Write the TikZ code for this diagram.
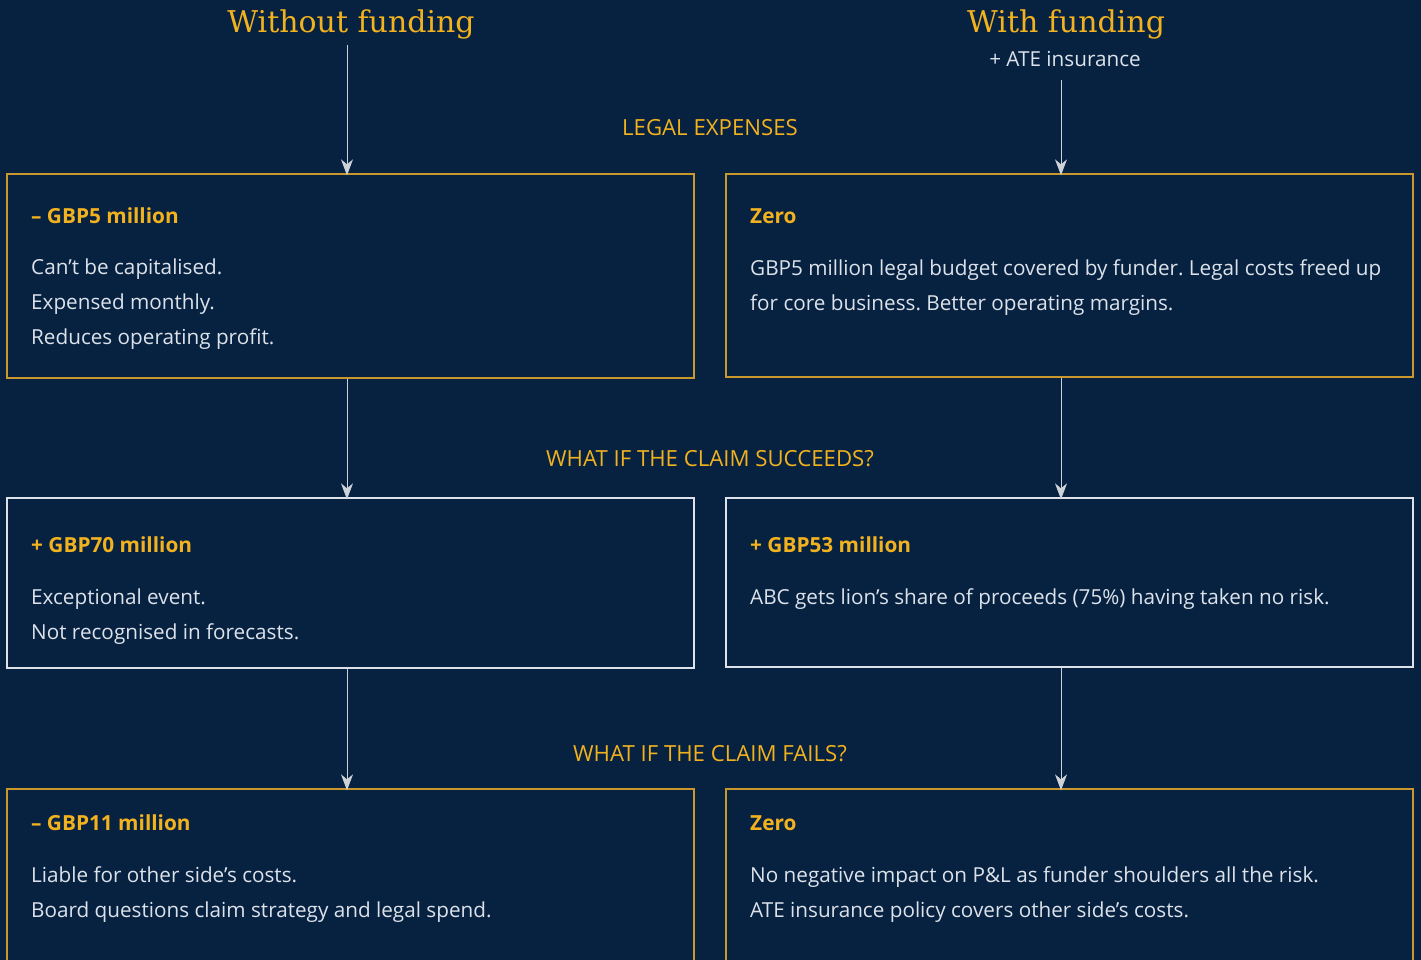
\documentclass[tikz,border=0pt]{standalone}
\usepackage{fontspec}
\setmainfont{Open Sans}
\newfontfamily\titlefont{DejaVu Serif}
\usetikzlibrary{arrows.meta,positioning}
\definecolor{bg}{HTML}{062240}
\definecolor{gold}{HTML}{F2B21F}
\definecolor{goldline}{HTML}{C9972B}
\definecolor{txt}{HTML}{DDE2EA}
\definecolor{arr}{HTML}{CDD1D8}
\frenchspacing
\tikzset{
  goldbox/.style={draw=goldline,line width=1.3pt,rectangle,inner sep=0pt},
  whitebox/.style={draw=txt,line width=1.3pt,rectangle,inner sep=0pt},
  title/.style={text=gold,font=\titlefont\fontsize{30}{33}\selectfont\frenchspacing,anchor=base,inner sep=0pt},
  section/.style={text=gold,font=\fontsize{22.2}{25}\selectfont\frenchspacing,anchor=base,inner sep=0pt},
  head/.style={text=gold,font=\bfseries\fontsize{20.8}{24}\selectfont\frenchspacing,anchor=base west,inner sep=0pt},
  body/.style={text=txt,font=\fontsize{20.7}{34.6}\selectfont\frenchspacing,anchor=base west,inner sep=0pt,align=left},
  sub/.style={text=txt,font=\fontsize{20.7}{24}\selectfont\frenchspacing,anchor=base,inner sep=0pt},
  flow/.style={draw=arr,line width=1pt,-{Stealth[length=16pt,width=12pt,inset=5pt]}}
}
\begin{document}
\begin{tikzpicture}[x=1pt,y=-1pt]
\useasboundingbox (0,0) rectangle (1421,960);
\fill[bg] (0,0) rectangle (1421,960);
\clip (0,0) rectangle (1421,960);
% titles
\node[title] (tL) at (351,33) {Without funding};
\node[title] (tR) at (1066,33) {With funding};
\node[sub] (ate) at (1065,67) {+ ATE insurance};
% section labels
\node[section] (s1) at (710,136) {LEGAL EXPENSES};
\node[section] (s2) at (710,466) {WHAT IF THE CLAIM SUCCEEDS?};
\node[section] (s3) at (710,761) {WHAT IF THE CLAIM FAILS?};
% boxes
\node[goldbox,minimum width=687pt,minimum height=204pt] (L1) at (350.5,276) {};
\node[goldbox,minimum width=687pt,minimum height=203pt] (R1) at (1069.5,275.5) {};
\node[whitebox,minimum width=687pt,minimum height=170pt] (L2) at (350.5,583) {};
\node[whitebox,minimum width=687pt,minimum height=169pt] (R2) at (1069.5,582.5) {};
\node[goldbox,minimum width=687pt,minimum height=240pt] (L3) at (350.5,909) {};
\node[goldbox,minimum width=687pt,minimum height=240pt] (R3) at (1069.5,909) {};
% box texts (body anchors sit on the baseline of the last line)
\node[head] (h1) at (31,223) {– GBP5 million};
\node[body] (b1) at (31,344) {Can’t be capitalised.\\Expensed monthly.\\Reduces operating profit.};
\node[head] (h2) at (750,223) {Zero};
\node[body] (b2) at (750,310) {GBP5 million legal budget covered by funder. Legal costs freed up\\for core business. Better operating margins.};
\node[head] (h3) at (31,552) {+ GBP70 million};
\node[body] (b3) at (31,639) {Exceptional event.\\Not recognised in forecasts.};
\node[head] (h4) at (750,552) {+ GBP53 million};
\node[body] (b4) at (750,604) {ABC gets lion’s share of proceeds (75\%) having taken no risk.};
\node[head] (h5) at (31,830) {– GBP11 million};
\node[body] (b5) at (31,917) {Liable for other side’s costs.\\Board questions claim strategy and legal spend.};
\node[head] (h6) at (750,830) {Zero};
\node[body] (b6) at (750,917) {No negative impact on P\&L as funder shoulders all the risk.\\ATE insurance policy covers other side’s costs.};
% arrow columns
\coordinate (aL) at (347,0);
\coordinate (aR) at (1061,0);
\coordinate (sL) at (347,45);
\coordinate (sR) at (1061,80);
\draw[flow] (sL) -- ([yshift=-2pt]L1.north -| aL);
\draw[flow] (sR) -- ([yshift=-2pt]R1.north -| aR);
\draw[flow] (L1.south -| aL) -- ([yshift=-2pt]L2.north -| aL);
\draw[flow] (R1.south -| aR) -- ([yshift=-2pt]R2.north -| aR);
\draw[flow] (L2.south -| aL) -- ([yshift=-2pt]L3.north -| aL);
\draw[flow] (R2.south -| aR) -- ([yshift=-2pt]R3.north -| aR);
\end{tikzpicture}
\end{document}
